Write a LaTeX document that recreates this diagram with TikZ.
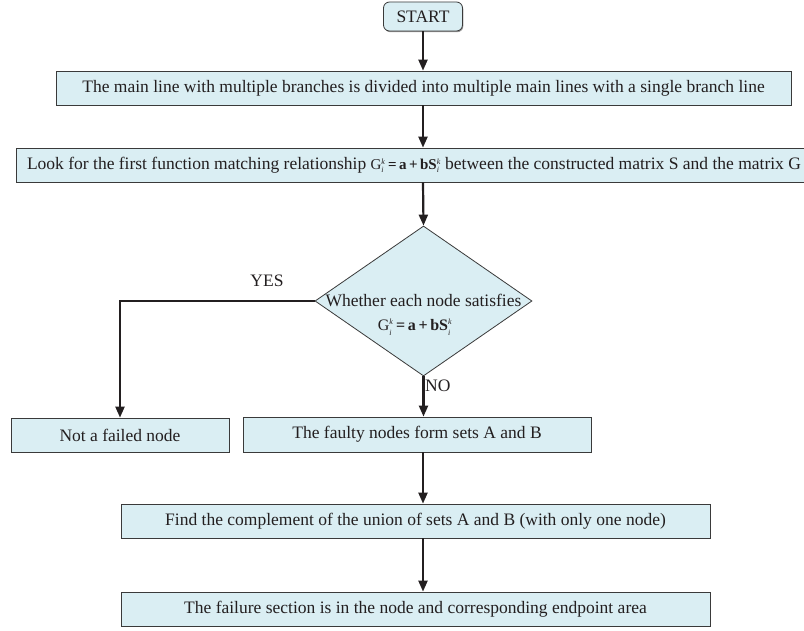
\documentclass[tikz,border=0pt]{standalone}
\usepackage{fontspec}
\setmainfont{Liberation Serif}
\usetikzlibrary{arrows.meta,shapes.geometric,shadows}
\definecolor{boxfill}{HTML}{DAEEF3}
\definecolor{ink}{HTML}{231F20}
\definecolor{edgec}{HTML}{3A3A3A}
\newcommand{\smallit}[1]{\hbox{\fontsize{8}{8}\selectfont\itshape #1}}
\newcommand{\relfm}{G$^{\smallit{k}}_{\smallit{i}}$\,\textbf{=\,a\,+\,bS}$^{\smallit{k}}_{\smallit{i}}$}
\begin{document}
\begin{tikzpicture}[x=1pt,y=-1pt,
  box/.style={draw=edgec, fill=boxfill, line width=0.8pt, minimum height=34pt,
    inner sep=0pt, text=ink, font=\fontsize{17.5}{20}\selectfont,
    drop shadow={shadow xshift=0.8pt, shadow yshift=-1.2pt, fill=gray!80, opacity=1}},
  lbl/.style={text=ink, font=\fontsize{17.5}{20}\selectfont, inner sep=0pt},
  arr/.style={draw=ink, line width=2.2pt, -{Triangle[length=11pt,width=9pt]}},
  conn/.style={draw=ink, line width=2.2pt}]
\useasboundingbox (0,0) rectangle (804,631);
\fill[white] (0,0) rectangle (804,631);

\node[box, rounded corners=6pt, minimum width=79pt, minimum height=29pt] (start) at (423,16.5) {START};
\node[box, minimum width=735pt] (b1) at (423.5,88) {The main line with multiple branches is divided into multiple main lines with a single branch line};
\node[box, minimum width=796pt] (b2) at (414,165) {Look for the first function matching relationship {\fontsize{15}{16}\selectfont\relfm} between the constructed matrix S and the matrix G};
\node[diamond, draw=edgec, fill=boxfill, line width=0.8pt, minimum width=217pt, minimum height=150pt, inner sep=0pt] (dec) at (423.5,301) {};
\node[lbl] (q1) at (423.5,300) {Whether each node satisfies};
\node[lbl, font=\fontsize{16}{18}\selectfont] (q2) at (415,327) {\relfm};
\node[box, minimum width=218pt] (nf) at (120,435) {Not a failed node};
\node[box, minimum width=348pt, minimum height=35pt] (fa) at (417,434.5) {The faulty nodes form sets A and B};
\node[box, minimum width=589pt] (fc) at (415.5,521) {Find the complement of the union of sets A and B (with only one node)};
\node[box, minimum width=589pt] (fs) at (415.5,609) {The failure section is in the node and corresponding endpoint area};

\node[lbl] (yes) at (267,281) {YES};
\node[lbl, anchor=west] (no) at (425,386) {NO};

\coordinate (ax) at (423,0);
\draw[arr] (start.south) -- (start.south |- b1.north);
\draw[arr] (ax |- b1.south) -- (ax |- b2.north);
\draw[arr] (ax |- b2.south) -- (dec.north);
\draw[arr] (dec.south) -- (dec.south |- fa.north);
\draw[arr] (dec.west) -| (nf.north);
\draw[arr] (ax |- fa.south) -- (ax |- fc.north);
\draw[arr] (ax |- fc.south) -- (ax |- fs.north);
\end{tikzpicture}
\end{document}
